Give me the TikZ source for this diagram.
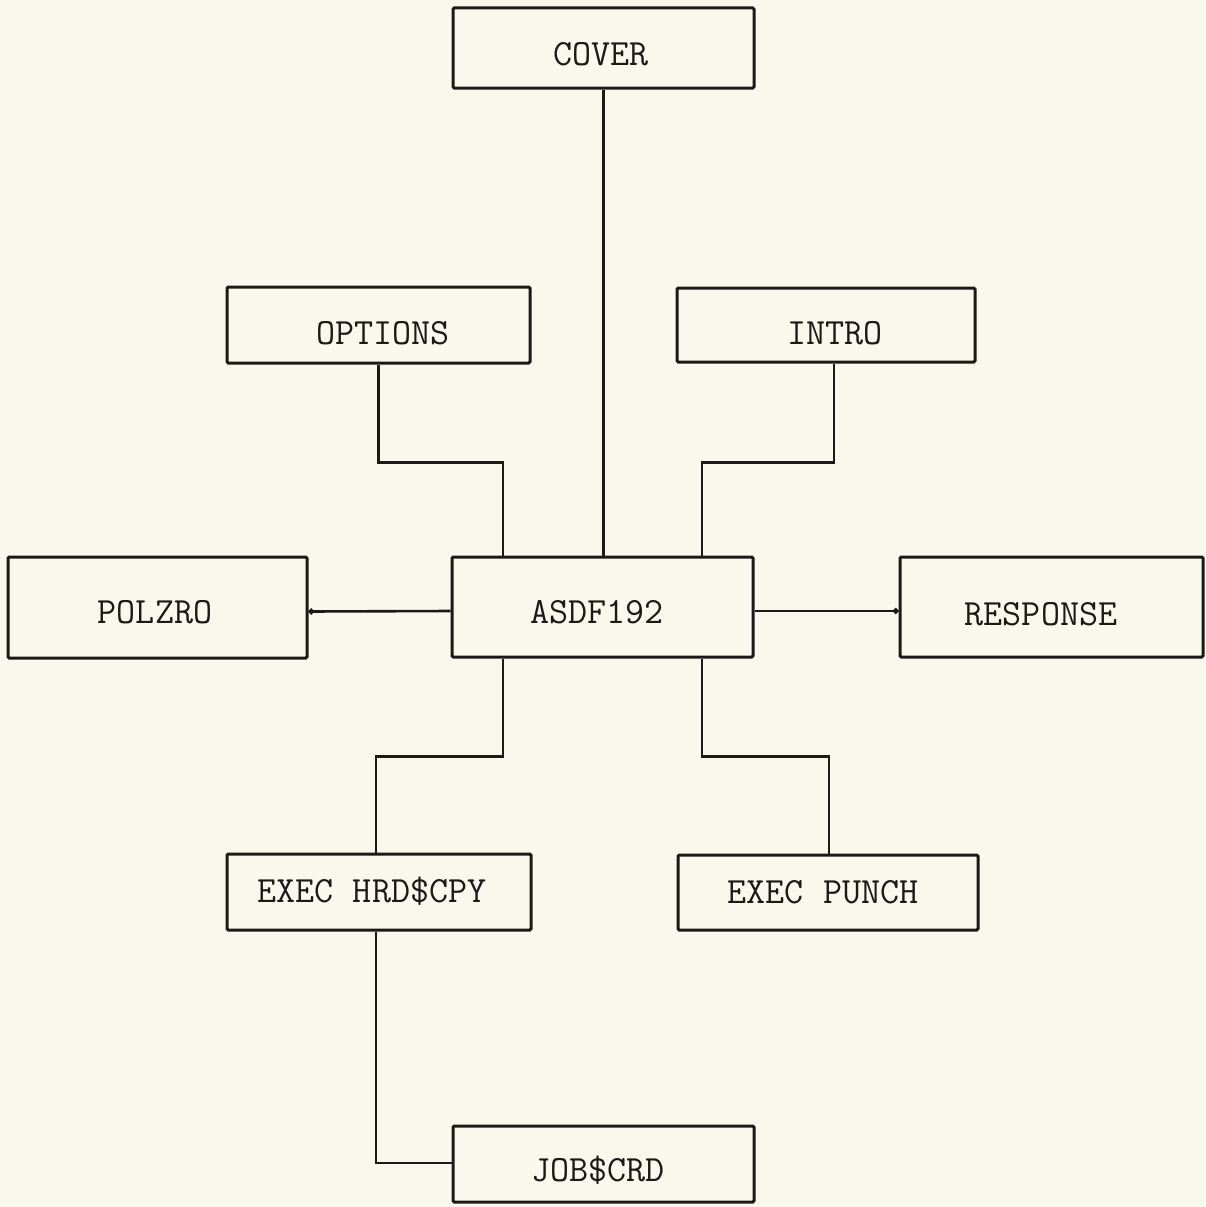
\documentclass[tikz,border=0pt]{standalone}
\usetikzlibrary{arrows.meta}
\definecolor{paper}{RGB}{249,248,236}
\definecolor{ink}{RGB}{28,26,23}
\tikzset{
  modbox/.style={draw=ink, line width=3pt, rectangle, inner sep=0pt,
    rounded corners=1.2pt},
  modtext/.style={text=ink, font=\fontsize{37}{40}\selectfont\ttfamily,
    inner sep=0pt, anchor=center, text height=22.6pt, text depth=0pt},
  link/.style={draw=ink, line width=2.6pt},
  dotend/.style={-{Circle[length=5.5pt]}}
}
\begin{document}
\begin{tikzpicture}[x=1pt, y=-1pt]
  % page
  \fill[paper] (0,0) rectangle (1205,1207);
  \useasboundingbox (0,0) rectangle (1205,1207);

  % modules
  \node[modbox, minimum width=301pt, minimum height=80pt,
    label={[modtext, xshift=-2.5pt, yshift=-6pt]center:COVER}] (cover) at (603.5,48) {};
  \node[modbox, minimum width=303pt, minimum height=76pt,
    label={[modtext, xshift=4.5pt, yshift=-8pt]center:OPTIONS}] (opt) at (378.5,325) {};
  \node[modbox, minimum width=298pt, minimum height=74pt,
    label={[modtext, xshift=9pt, yshift=-8pt]center:INTRO}] (intro) at (826,325) {};
  \node[modbox, minimum width=299pt, minimum height=101pt,
    label={[modtext, xshift=-2.5pt, yshift=-4.5pt]center:POLZRO}] (polzro) at (157.5,607.5) {};
  \node[modbox, minimum width=301pt, minimum height=100pt,
    label={[modtext, xshift=-5.5pt, yshift=-5pt]center:ASDF192}] (asdf) at (602.5,607) {};
  \node[modbox, minimum width=303pt, minimum height=100pt,
    label={[modtext, xshift=-10.5pt, yshift=-7pt]center:RESPONSE}] (resp) at (1051.5,607) {};
  \node[modbox, minimum width=304pt, minimum height=76pt,
    label={[modtext, xshift=-7pt, yshift=1pt]center:EXEC HRD\$CPY}] (hrd) at (379,892) {};
  \node[modbox, minimum width=300pt, minimum height=75pt,
    label={[modtext, xshift=-5pt]center:EXEC PUNCH}] (punch) at (828,892.5) {};
  \node[modbox, minimum width=301pt, minimum height=76pt,
    label={[modtext, xshift=-5.5pt, yshift=-6pt]center:JOB\$CRD}] (job) at (603.5,1164) {};

  % connection ports
  \coordinate (introport) at ([xshift=8pt]intro.south);
  \coordinate (hrdtop) at ([xshift=-3pt]hrd.north);
  \coordinate (hrdbot) at ([xshift=-3pt]hrd.south);
  \coordinate (punchtop) at ([xshift=1pt]punch.north);
  \coordinate (jobport) at ([yshift=1pt]job.west);

  % links
  \draw[link] (cover.south) -- (cover.south |- asdf.north);
  \draw[link] (opt.south) -- ++(0,98) -| ([xshift=-99.5pt]asdf.north);
  \draw[link] (introport) -- ++(0,99) -| ([xshift=99.5pt]asdf.north);
  \draw[link] ([xshift=-99.5pt]asdf.south) -- ++(0,98) -| (hrdtop);
  \draw[link] ([xshift=99.5pt]asdf.south) -- ++(0,98) -| (punchtop);
  \draw[link] (hrdbot) |- (jobport);
  \draw[link, dotend] ([yshift=-4pt]asdf.west) -- ([yshift=-4pt]polzro.east);
  \draw[link, dotend] ([yshift=-4pt]asdf.east) -- ([yshift=-4pt]resp.west);
\end{tikzpicture}
\end{document}
